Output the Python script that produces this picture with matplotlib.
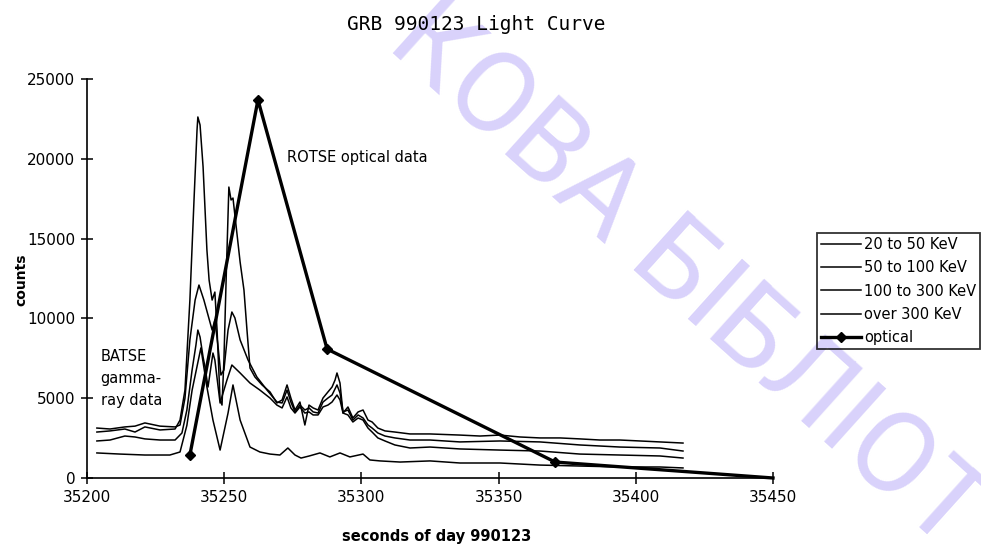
import numpy as np
import matplotlib
matplotlib.use("Agg")
import matplotlib.pyplot as plt

# BATSE channels, seconds of day 990123 vs counts
t_20_50 = [35203.6, 35208.4, 35213.8, 35217.5, 35221.1, 35226.6, 35232.1, 35234.6,
           35236.4, 35238.3, 35239.7, 35240.4, 35241.2, 35242.3, 35243.0, 35244.1,
           35245.9, 35246.6, 35248.5, 35251.0, 35252.8, 35255.8, 35259.4, 35263.0,
           35266.7, 35269.2, 35271.1, 35272.9, 35274.3, 35275.8, 35277.6, 35279.4,
           35280.9, 35282.4, 35284.2, 35286.0, 35287.8, 35289.3, 35291.1, 35292.2,
           35293.3, 35295.1, 35296.9, 35298.8, 35300.6, 35302.4, 35303.9, 35306.0,
           35308.6, 35312.2, 35317.7, 35325.0, 35335.9, 35350.5, 35365.1, 35379.6,
           35394.2, 35408.8, 35417.2]
c_20_50 = [2320, 2380, 2630, 2570, 2450, 2380, 2380, 2820,
           4260, 6770, 8330, 9270, 8830, 7580, 6960, 5700,
           7830, 7390, 4700, 6140, 7080, 6580, 5950, 5510,
           5010, 4570, 4390, 5080, 4390, 4070, 4450, 4070,
           4140, 3950, 3950, 4450, 4570, 4760, 5200, 4890,
           4070, 3950, 3510, 3760, 3630, 3130, 2880, 2510,
           2320, 2070, 1880, 1940, 1820, 1750, 1690, 1500,
           1440, 1380, 1250]

t_50_100 = [35203.6, 35208.4, 35213.8, 35217.5, 35221.1, 35226.6, 35232.1, 35233.9,
            35235.7, 35237.5, 35239.4, 35240.8, 35242.6, 35244.1, 35245.6, 35246.6,
            35247.7, 35248.8, 35249.9, 35251.4, 35252.8, 35253.9, 35255.8, 35258.7,
            35261.9, 35265.6, 35269.2, 35271.1, 35272.9, 35274.3, 35275.8, 35277.6,
            35279.4, 35280.9, 35282.4, 35284.2, 35286.0, 35287.8, 35289.3, 35291.1,
            35292.2, 35293.3, 35295.1, 35296.9, 35298.8, 35300.6, 35302.4, 35303.9,
            35306.0, 35308.6, 35312.2, 35317.7, 35325.0, 35335.9, 35350.5, 35365.1,
            35379.6, 35394.2, 35408.8, 35417.2]
c_50_100 = [3130, 3070, 3200, 3250, 3450, 3250, 3200, 3320,
            5000, 8650, 11150, 12090, 11150, 10210, 9270, 9900,
            8330, 6450, 6770, 9270, 10400, 10030, 8650, 7390,
            6330, 5510, 4760, 4700, 5510, 4760, 4140, 4570,
            4260, 4390, 4140, 4070, 4760, 5010, 5200, 5830,
            5330, 4140, 4260, 3630, 3950, 3760, 3320, 3130,
            2820, 2630, 2510, 2380, 2380, 2260, 2320, 2260,
            2070, 1940, 1880, 1690]

t_100_300 = [35203.6, 35208.4, 35213.8, 35217.5, 35221.1, 35226.6, 35232.1, 35233.9,
             35235.7, 35237.5, 35239.0, 35240.1, 35240.4, 35241.2, 35242.3, 35243.7,
             35244.5, 35245.6, 35246.6, 35247.4, 35248.5, 35249.2, 35249.9, 35250.7,
             35251.7, 35252.5, 35253.2, 35254.3, 35255.8, 35257.2, 35258.3, 35259.4,
             35261.2, 35263.8, 35266.7, 35269.2, 35271.1, 35272.9, 35274.3, 35275.8,
             35277.6, 35279.4, 35280.9, 35282.4, 35284.2, 35286.0, 35287.8, 35289.3,
             35290.4, 35291.1, 35292.2, 35293.3, 35295.1, 35296.9, 35298.8, 35300.6,
             35302.4, 35303.9, 35306.0, 35308.6, 35312.2, 35317.7, 35325.0, 35335.9,
             35343.2, 35350.5, 35357.8, 35365.1, 35372.4, 35379.6, 35386.9, 35394.2,
             35401.5, 35408.8, 35417.2]
c_100_300 = [2880, 2950, 3070, 2880, 3200, 3010, 3070, 3630,
             5510, 11150, 17420, 21810, 22620, 22120, 19500, 14290,
             12400, 11150, 11650, 9270, 4890, 4570, 7400, 12410,
             18230, 17420, 17540, 15850, 13530, 11780, 9270, 6890,
             6330, 5830, 5390, 4700, 4890, 5830, 5010, 4260,
             4760, 3320, 4570, 4390, 4260, 5010, 5390, 5700,
             6140, 6580, 5950, 4070, 4450, 3760, 4140, 4260,
             3630, 3510, 3130, 2950, 2880, 2760, 2760, 2690,
             2630, 2690, 2570, 2510, 2510, 2450, 2380, 2380,
             2320, 2260, 2190]

t_over_300 = [35203.6, 35212.0, 35221.1, 35230.2, 35233.9, 35236.4, 35238.3, 35241.5,
              35243.7, 35245.9, 35248.5, 35251.4, 35253.2, 35255.8, 35259.4, 35263.0,
              35266.7, 35270.3, 35273.2, 35275.8, 35278.0, 35281.0, 35284.9, 35288.5,
              35292.2, 35295.8, 35300.6, 35303.1, 35306.8, 35314.1, 35325.0, 35335.9,
              35350.5, 35365.1, 35379.6, 35394.2, 35408.8, 35417.2]
c_over_300 = [1570, 1500, 1440, 1440, 1630, 3300, 5500, 8150,
              5700, 3630, 1750, 4070, 5830, 3630, 1940, 1630,
              1500, 1440, 1880, 1440, 1250, 1380, 1570, 1320,
              1570, 1320, 1500, 1130, 1070, 1000, 1070, 940,
              940, 810, 750, 690, 690, 630]

# ROTSE optical points
t_optical = [35237.5, 35262.3, 35287.5, 35370.6, 35450.0]
c_optical = [1440, 23690, 8080, 1000, 0]

labels = ["20 to 50 KeV", "50 to 100 KeV", "100 to 300 KeV", "over 300 KeV", "optical"]

fig = plt.figure(figsize=(9.81, 5.48), dpi=100)
ax = fig.add_axes([87 / 981, 1 - 478 / 548, 686 / 981, 399 / 548])
ax.patch.set_visible(False)

# library stamp running diagonally behind the chart
fig.text(0.392, 0.915, "КОВА БІБЛІОТ", rotation=-42, rotation_mode="anchor",
         ha="left", va="baseline", fontsize=82, color="#d9d2fb",
         family=["Roboto", "DejaVu Sans"], fontweight="normal", zorder=-1)

curves = []
for t, c in [(t_20_50, c_20_50), (t_50_100, c_50_100),
             (t_100_300, c_100_300), (t_over_300, c_over_300)]:
    line, = ax.plot(t, c, color="black", linewidth=1.1)
    curves.append(line)
line, = ax.plot(t_optical, c_optical, color="black", linewidth=2.4,
                marker="D", markersize=5, markevery=[0, 1, 2, 3], clip_on=False)
curves.append(line)

ax.set_xlim(35200, 35450)
ax.set_ylim(0, 25000)
ax.set_xticks(np.arange(35200, 35451, 50))
ax.set_yticks(np.arange(0, 25001, 5000))
for side in ["top", "right"]:
    ax.spines[side].set_visible(False)
for side in ["left", "bottom"]:
    ax.spines[side].set_linewidth(1.2)
ax.tick_params(direction="inout", length=9, width=1.1, labelsize=11, pad=4)

ax.text(35273, 20100, "ROTSE optical data", fontsize=10.5, va="center")
ax.text(35205, 8100, "BATSE\ngamma-\nray data", fontsize=10.5, va="top",
        linespacing=1.6)

fig.text(476 / 981, 1 - 24 / 548, "GRB 990123 Light Curve", ha="center",
         va="center", fontsize=14, family="DejaVu Sans Mono")
fig.text(437 / 981, 1 - 536 / 548, "seconds of day 990123", ha="center",
         va="center", fontsize=10.5, fontweight="bold")
fig.text(21 / 981, 1 - 280 / 548, "counts", ha="center", va="center",
         rotation=90, fontsize=10, fontweight="bold")

leg = fig.legend(curves, labels, loc="upper left",
                 bbox_to_anchor=(817 / 981, 1 - 233 / 548), fontsize=10.5,
                 handlelength=2.8, handletextpad=0.2, labelspacing=0.58,
                 borderpad=0.25, borderaxespad=0, fancybox=False)
leg.get_frame().set_edgecolor("black")
leg.get_frame().set_linewidth(1.3)
leg.get_frame().set_facecolor("none")

fig.savefig("out.png", dpi=100)
